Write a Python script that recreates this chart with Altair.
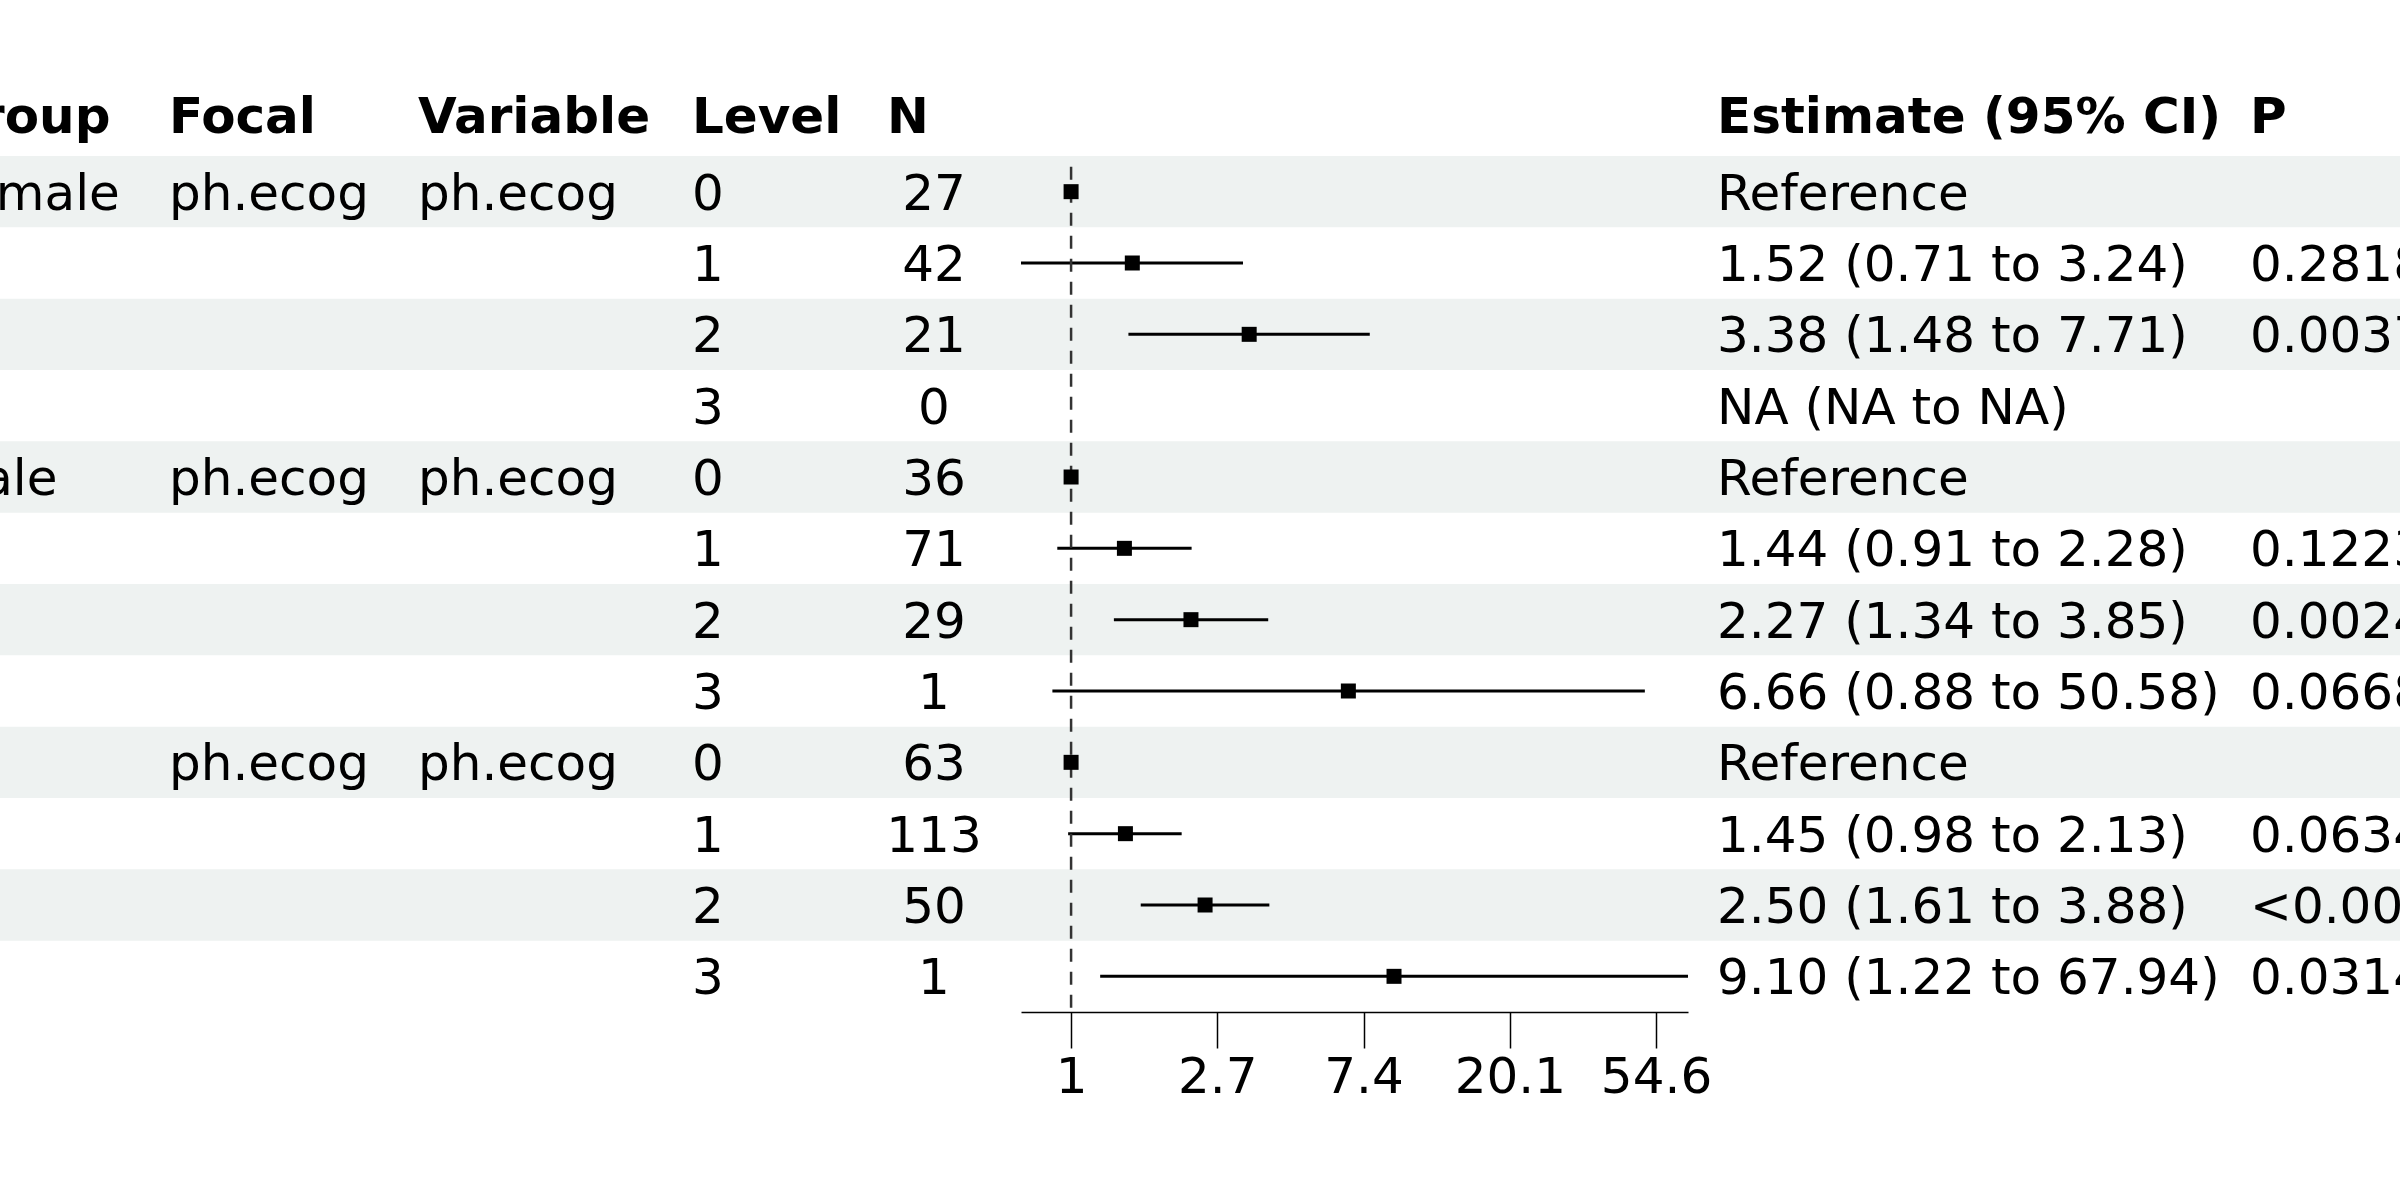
import math
import altair as alt
import pandas as pd

# ---------------- data ----------------
groups = ["Female", "", "", "", "Male", "", "", "", "All", "", "", ""]
focal = ["ph.ecog", "", "", "", "ph.ecog", "", "", "", "ph.ecog", "", "", ""]
variables = ["ph.ecog", "", "", "", "ph.ecog", "", "", "", "ph.ecog", "", "", ""]
levels = ["0", "1", "2", "3", "0", "1", "2", "3", "0", "1", "2", "3"]
n_vals = [27, 42, 21, 0, 36, 71, 29, 1, 63, 113, 50, 1]
est = [1.0, 1.52, 3.38, None, 1.0, 1.44, 2.27, 6.66, 1.0, 1.45, 2.50, 9.10]
lower = [None, 0.71, 1.48, None, None, 0.91, 1.34, 0.88, None, 0.98, 1.61, 1.22]
upper = [None, 3.24, 7.71, None, None, 2.28, 3.85, 50.58, None, 2.13, 3.88, 67.94]
est_text = ["Reference", "1.52 (0.71 to 3.24)", "3.38 (1.48 to 7.71)", "NA (NA to NA)",
            "Reference", "1.44 (0.91 to 2.28)", "2.27 (1.34 to 3.85)", "6.66 (0.88 to 50.58)",
            "Reference", "1.45 (0.98 to 2.13)", "2.50 (1.61 to 3.88)", "9.10 (1.22 to 67.94)"]
p_text = ["", "0.2818", "0.0037", "", "", "0.1223", "0.0024", "0.0668",
          "", "0.0634", "<0.001", "0.0314"]
headers = ["Group", "Focal", "Variable", "Level", "N", "Estimate (95% CI)", "P"]
tick_values = [1.0, math.e, math.e ** 2, math.e ** 3, math.e ** 4]
ref_value = [1.0]

# ---------------- layout ----------------
FONT = "DejaVu Sans"
FS = 50
W, H = 2400, 1200
PLOT_BOTTOM = 1012
col_x = {"Group": -61, "Focal": 169, "Variable": 418, "Level": 692,
         "N": 887, "Estimate (95% CI)": 1717, "P": 2250}
n_center_x = 934

n_rows = len(levels)
df = pd.DataFrame({
    "row": list(range(n_rows)),
    "group": groups, "focal": focal, "variable": variables, "level": levels,
    "n": [str(v) for v in n_vals], "est": est, "lower": lower, "upper": upper,
    "est_text": est_text, "p_text": p_text,
})
df["row_mid"] = df["row"] + 0.5
df["row_end"] = df["row"] + 1

lo = min(v for v in lower if v is not None)
hi = max(v for v in upper if v is not None)
yscale = alt.Scale(domain=[0, n_rows], range=[156, PLOT_BOTTOM], nice=False, zero=False)
xscale = alt.Scale(type="log", domain=[lo, hi], range=[1021, 1688], nice=False)

base = alt.Chart(df)

bands = base.transform_filter("datum.row % 2 == 0").mark_rect(color="#eef2f1").encode(
    x=alt.value(0), x2=alt.value(W),
    y=alt.Y("row:Q", scale=yscale, axis=None), y2="row_end:Q")

def col_text(field, x, align="left"):
    return base.mark_text(align=align, baseline="middle", dy=3, font=FONT, fontSize=FS,
                          color="black").encode(
        x=alt.value(x), y=alt.Y("row_mid:Q", scale=yscale, axis=None), text=f"{field}:N")

texts = [
    col_text("group", col_x["Group"]),
    col_text("focal", col_x["Focal"]),
    col_text("variable", col_x["Variable"]),
    col_text("level", col_x["Level"]),
    col_text("n", n_center_x, "center"),
    col_text("est_text", col_x["Estimate (95% CI)"]),
    col_text("p_text", col_x["P"]),
]

header_layers = []
for h in headers:
    header_layers.append(
        alt.Chart(pd.DataFrame({"h": [h]})).mark_text(
            align="left", baseline="alphabetic", font=FONT, fontSize=FS, fontWeight="bold",
            color="black").encode(x=alt.value(col_x[h]), y=alt.value(133), text="h:N"))

xaxis = alt.Axis(values=tick_values, title=None, grid=False,
                 labelExpr="datum.value < 1.5 ? '1' : format(datum.value, '.1f')",
                 labelFont=FONT, labelFontSize=FS, labelColor="black", labelPadding=4,
                 labelFlush=False, labelOverlap=False,
                 domainColor="black", domainWidth=1.5, tickColor="black", tickWidth=1.5,
                 tickSize=36, orient="bottom")

ci = base.transform_filter("isValid(datum.lower)").mark_rule(color="black", strokeWidth=3).encode(
    x=alt.X("lower:Q", scale=xscale, axis=xaxis), x2="upper:Q",
    y=alt.Y("row_mid:Q", scale=yscale, axis=None))

ref_df = pd.DataFrame({"v": ref_value})
ref_line = alt.Chart(ref_df).transform_calculate(
    y0="0.15", y1=str(n_rows)).mark_rule(
    color="#333333", strokeWidth=2.5, strokeDash=[13, 10]).encode(
    x=alt.X("v:Q", scale=xscale),
    y=alt.Y("y0:Q", scale=yscale, axis=None), y2="y1:Q")

squares = base.transform_filter("isValid(datum.est)").mark_square(
    size=225, color="black", opacity=1).encode(
    x=alt.X("est:Q", scale=xscale), y=alt.Y("row_mid:Q", scale=yscale, axis=None))

chart = alt.layer(bands, *texts, *header_layers, ci, ref_line, squares).properties(
    width=W, height=PLOT_BOTTOM, autosize="none",
    padding={"left": 0, "top": 0, "right": 0, "bottom": H - PLOT_BOTTOM},
    background="white",
).configure_view(stroke=None)

chart.save("out.html", embed_options={"renderer": "svg", "actions": False})
